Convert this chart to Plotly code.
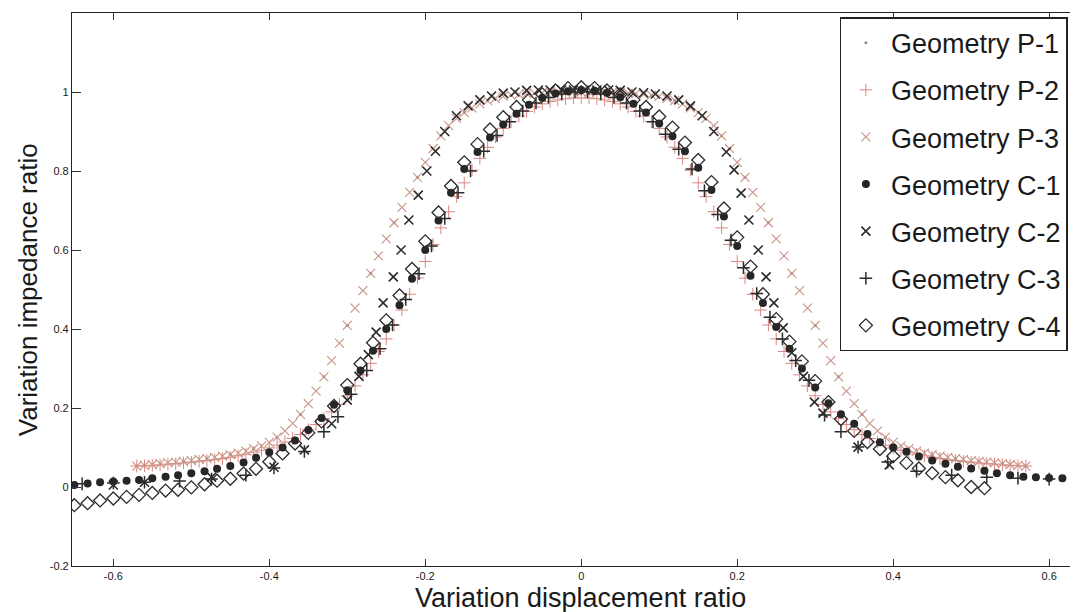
import plotly.graph_objects as go

# displacement grid shared by the dense P series
x_p = [-0.57, -0.56, -0.55, -0.54, -0.53, -0.52, -0.51, -0.50, -0.49, -0.48,
       -0.47, -0.46, -0.45, -0.44, -0.43, -0.42, -0.41, -0.40, -0.39, -0.38,
       -0.37, -0.36, -0.35, -0.34, -0.33, -0.32, -0.31, -0.30, -0.29, -0.28,
       -0.27, -0.26, -0.25, -0.24, -0.23, -0.22, -0.21, -0.20, -0.19, -0.18,
       -0.17, -0.16, -0.15, -0.14, -0.13, -0.12, -0.11, -0.10, -0.09, -0.08,
       -0.07, -0.06, -0.05, -0.04, -0.03, -0.02, -0.01, 0.00,
       0.01, 0.02, 0.03, 0.04, 0.05, 0.06, 0.07, 0.08, 0.09, 0.10,
       0.11, 0.12, 0.13, 0.14, 0.15, 0.16, 0.17, 0.18, 0.19, 0.20,
       0.21, 0.22, 0.23, 0.24, 0.25, 0.26, 0.27, 0.28, 0.29, 0.30,
       0.31, 0.32, 0.33, 0.34, 0.35, 0.36, 0.37, 0.38, 0.39, 0.40,
       0.41, 0.42, 0.43, 0.44, 0.45, 0.46, 0.47, 0.48, 0.49, 0.50,
       0.51, 0.52, 0.53, 0.54, 0.55, 0.56, 0.57]

# Geometry P-2 (inner curve)
y_p2 = [0.053, 0.054, 0.055, 0.056, 0.058, 0.059, 0.061, 0.063, 0.065, 0.067,
        0.069, 0.072, 0.075, 0.079, 0.083, 0.088, 0.093, 0.099, 0.106, 0.114,
        0.123, 0.133, 0.145, 0.158, 0.173, 0.190, 0.209, 0.231, 0.256, 0.284,
        0.313, 0.343, 0.375, 0.410, 0.448, 0.488, 0.529, 0.571, 0.614, 0.656,
        0.697, 0.735, 0.770, 0.802, 0.832, 0.860, 0.886, 0.908, 0.925, 0.939,
        0.951, 0.962, 0.970, 0.976, 0.980, 0.983, 0.985, 0.985,
        0.985, 0.983, 0.980, 0.976, 0.970, 0.962, 0.951, 0.939, 0.925, 0.908,
        0.886, 0.860, 0.832, 0.802, 0.770, 0.735, 0.697, 0.656, 0.614, 0.571,
        0.529, 0.488, 0.448, 0.410, 0.375, 0.343, 0.313, 0.284, 0.256, 0.231,
        0.209, 0.190, 0.173, 0.158, 0.145, 0.133, 0.123, 0.114, 0.106, 0.099,
        0.093, 0.088, 0.083, 0.079, 0.075, 0.072, 0.069, 0.067, 0.065, 0.063,
        0.061, 0.059, 0.058, 0.056, 0.055, 0.054, 0.053]

# Geometry P-3 (outer curve)
y_p3 = [0.053, 0.055, 0.057, 0.059, 0.061, 0.063, 0.065, 0.067, 0.070, 0.072,
        0.075, 0.078, 0.082, 0.086, 0.091, 0.097, 0.104, 0.113, 0.126, 0.142,
        0.161, 0.184, 0.211, 0.243, 0.279, 0.320, 0.364, 0.409, 0.453, 0.497,
        0.541, 0.585, 0.628, 0.669, 0.708, 0.746, 0.784, 0.822, 0.857, 0.889,
        0.915, 0.933, 0.948, 0.960, 0.970, 0.978, 0.984, 0.989, 0.992, 0.994,
        0.996, 0.997, 0.998, 0.999, 1.000, 1.000, 1.000, 1.000,
        1.000, 1.000, 1.000, 0.999, 0.998, 0.997, 0.996, 0.994, 0.992, 0.989,
        0.984, 0.978, 0.970, 0.960, 0.948, 0.933, 0.915, 0.889, 0.857, 0.822,
        0.784, 0.746, 0.708, 0.669, 0.628, 0.585, 0.541, 0.497, 0.453, 0.409,
        0.364, 0.320, 0.279, 0.243, 0.211, 0.184, 0.161, 0.142, 0.126, 0.113,
        0.104, 0.097, 0.091, 0.086, 0.082, 0.078, 0.075, 0.072, 0.070, 0.067,
        0.065, 0.063, 0.061, 0.059, 0.057, 0.055, 0.053]

# Geometry P-1 (small dots)
x_p1 = [-0.57, -0.54, -0.51, -0.48, -0.45, -0.42, -0.39, -0.36, -0.33, -0.30,
        -0.27, -0.24, -0.21, -0.18, -0.15, -0.12, -0.09, -0.06, -0.03, 0.00,
        0.03, 0.06, 0.09, 0.12, 0.15, 0.18, 0.21, 0.24, 0.27, 0.30,
        0.33, 0.36, 0.39, 0.42, 0.45, 0.48, 0.51, 0.54, 0.57]
y_p1 = [0.053, 0.059, 0.065, 0.072, 0.082, 0.097, 0.126, 0.184, 0.279, 0.409,
        0.541, 0.669, 0.784, 0.889, 0.948, 0.978, 0.992, 0.997, 1.000, 1.000,
        1.000, 0.997, 0.992, 0.978, 0.948, 0.889, 0.784, 0.669, 0.541, 0.409,
        0.279, 0.184, 0.126, 0.097, 0.082, 0.072, 0.065, 0.059, 0.053]

# Geometry C-1
x_c1 = [-0.650, -0.633, -0.617, -0.600, -0.583, -0.567, -0.550, -0.533, -0.517, -0.500,
        -0.483, -0.467, -0.450, -0.433, -0.417, -0.400, -0.383, -0.367, -0.350, -0.333,
        -0.317, -0.300, -0.283, -0.267, -0.250, -0.233, -0.217, -0.200, -0.183, -0.167,
        -0.150, -0.133, -0.117, -0.100, -0.083, -0.067, -0.050, -0.033, -0.017, 0.000,
        0.017, 0.033, 0.050, 0.067, 0.083, 0.100, 0.117, 0.133, 0.150, 0.167,
        0.183, 0.200, 0.217, 0.233, 0.250, 0.267, 0.283, 0.300, 0.317, 0.333,
        0.350, 0.367, 0.383, 0.400, 0.417, 0.433, 0.450, 0.467, 0.483, 0.500,
        0.517, 0.533, 0.550, 0.567, 0.583, 0.600, 0.617, 0.633, 0.650]
y_c1 = [0.005, 0.009, 0.012, 0.014, 0.016, 0.018, 0.022, 0.026, 0.030, 0.035,
        0.040, 0.046, 0.053, 0.062, 0.074, 0.088, 0.100, 0.118, 0.144, 0.175,
        0.208, 0.245, 0.295, 0.345, 0.400, 0.460, 0.527, 0.600, 0.675, 0.745,
        0.805, 0.848, 0.885, 0.918, 0.945, 0.968, 0.985, 0.996, 1.002, 1.005,
        1.003, 0.998, 0.987, 0.970, 0.948, 0.920, 0.888, 0.850, 0.808, 0.752,
        0.685, 0.610, 0.535, 0.466, 0.405, 0.350, 0.300, 0.252, 0.212, 0.184,
        0.160, 0.134, 0.113, 0.100, 0.089, 0.077, 0.067, 0.059, 0.051, 0.047,
        0.041, 0.035, 0.030, 0.026, 0.025, 0.023, 0.022, 0.022, 0.021]

# Geometry C-4
x_c4 = [-0.650, -0.633, -0.617, -0.600, -0.583, -0.567, -0.550, -0.533, -0.517, -0.500,
        -0.483, -0.467, -0.450, -0.433, -0.417, -0.400, -0.383, -0.367, -0.350, -0.333,
        -0.317, -0.300, -0.283, -0.267, -0.250, -0.233, -0.217, -0.200, -0.183, -0.167,
        -0.150, -0.133, -0.117, -0.100, -0.083, -0.067, -0.050, -0.033, -0.017, 0.000,
        0.017, 0.033, 0.050, 0.067, 0.083, 0.100, 0.117, 0.133, 0.150, 0.167,
        0.183, 0.200, 0.217, 0.233, 0.250, 0.267, 0.283, 0.300, 0.317, 0.333,
        0.350, 0.367, 0.383, 0.400, 0.417, 0.433, 0.450, 0.467, 0.483, 0.500,
        0.517]
y_c4 = [-0.046, -0.041, -0.034, -0.029, -0.025, -0.020, -0.015, -0.009, -0.007, -0.001,
        0.007, 0.016, 0.021, 0.034, 0.046, 0.064, 0.085, 0.110, 0.137, 0.166,
        0.205, 0.258, 0.312, 0.365, 0.422, 0.485, 0.552, 0.622, 0.695, 0.762,
        0.822, 0.868, 0.905, 0.936, 0.962, 0.980, 0.994, 1.004, 1.010, 1.012,
        1.010, 1.004, 0.994, 0.980, 0.962, 0.938, 0.910, 0.872, 0.828, 0.772,
        0.705, 0.632, 0.558, 0.488, 0.425, 0.368, 0.318, 0.268, 0.215, 0.172,
        0.142, 0.114, 0.096, 0.078, 0.061, 0.047, 0.035, 0.025, 0.017, 0.000,
        -0.003]

# Geometry C-2
x_c2 = [-0.60, -0.56, -0.474, -0.394, -0.355, -0.32, -0.30, -0.285, -0.273, -0.263,
        -0.254, -0.241, -0.231, -0.221, -0.209, -0.198, -0.187, -0.175, -0.16, -0.145,
        -0.13, -0.115, -0.10, -0.085, -0.07, -0.055, -0.04, -0.025, -0.01, 0.005,
        0.02, 0.035, 0.05, 0.065, 0.08, 0.095, 0.11, 0.125, 0.14, 0.155,
        0.17, 0.186, 0.196, 0.205, 0.215, 0.227, 0.237, 0.247, 0.259, 0.27,
        0.285, 0.299, 0.31, 0.355, 0.395]
y_c2 = [0.005, 0.012, 0.025, 0.05, 0.094, 0.16, 0.22, 0.28, 0.335, 0.392,
        0.466, 0.532, 0.60, 0.676, 0.739, 0.80, 0.85, 0.90, 0.94, 0.965,
        0.98, 0.99, 0.997, 1.0, 1.004, 1.005, 1.005, 1.005, 1.005, 1.005,
        1.005, 1.005, 1.004, 1.0, 0.998, 0.995, 0.99, 0.98, 0.965, 0.94,
        0.90, 0.848, 0.803, 0.744, 0.676, 0.60, 0.532, 0.466, 0.403, 0.34,
        0.28, 0.215, 0.187, 0.101, 0.056]

# Geometry C-3
x_c3 = [-0.64, -0.60, -0.56, -0.515, -0.474, -0.43, -0.394, -0.355, -0.33, -0.312,
        -0.295, -0.275, -0.258, -0.242, -0.225, -0.208, -0.192, -0.175, -0.158, -0.142,
        -0.125, -0.108, -0.092, -0.075, -0.058, -0.042, -0.025, -0.008, 0.008, 0.025,
        0.042, 0.058, 0.075, 0.092, 0.108, 0.125, 0.142, 0.158, 0.175, 0.192,
        0.208, 0.225, 0.242, 0.258, 0.275, 0.292, 0.312, 0.333, 0.355, 0.393,
        0.43, 0.475, 0.52, 0.56, 0.60, 0.64]
y_c3 = [0.008, 0.01, 0.012, 0.015, 0.02, 0.03, 0.048, 0.09, 0.14, 0.178,
        0.235, 0.295, 0.35, 0.41, 0.475, 0.54, 0.61, 0.68, 0.745, 0.80,
        0.85, 0.89, 0.925, 0.952, 0.972, 0.986, 0.995, 1.0, 1.0, 0.995,
        0.986, 0.972, 0.952, 0.925, 0.893, 0.855, 0.805, 0.75, 0.69, 0.625,
        0.555, 0.49, 0.43, 0.375, 0.32, 0.27, 0.182, 0.14, 0.101, 0.063,
        0.04, 0.03, 0.025, 0.022, 0.02, 0.02]

x_ticks = [-0.6, -0.4, -0.2, 0, 0.2, 0.4, 0.6]
x_ticktext = ['-0.6', '-0.4', '-0.2', '0', '0.2', '0.4', '0.6']
y_ticks = [-0.2, 0, 0.2, 0.4, 0.6, 0.8, 1, 1.2]
y_ticktext = ['-0.2', '0', '0.2', '0.4', '0.6', '0.8', '1', '1.2']

series = [
    ('Geometry P-1', x_p1, y_p1, 'circle', 3, '#8e8e8e', 0),
    ('Geometry P-2', x_p, y_p2, 'cross-thin', 9, '#d98880', 1),
    ('Geometry P-3', x_p, y_p3, 'x-thin', 9, '#c99486', 1.1),
    ('Geometry C-1', x_c1, y_c1, 'circle', 8, '#262626', 0),
    ('Geometry C-2', x_c2, y_c2, 'x-thin', 9, '#2b2b2b', 1.6),
    ('Geometry C-3', x_c3, y_c3, 'cross-thin', 9, '#2b2b2b', 1.5),
    ('Geometry C-4', x_c4, y_c4, 'diamond-open', 10, '#2b2b2b', 1.3),
]

fig = go.Figure()
for i, (name, xs, ys, sym, size, col, lw) in enumerate(series):
    if sym in ('x-thin', 'cross-thin', 'diamond-open'):
        mk = dict(symbol=sym, size=size, color=col, line=dict(width=lw, color=col))
    else:
        mk = dict(symbol=sym, size=size, color=col, line=dict(width=0))
    fig.add_trace(go.Scatter(x=xs, y=ys, mode='markers', name=name,
                             marker=mk, legendgroup=str(i)))

# the page body adds an 8px offset, so the figure is 8px smaller and shifted
fig.update_layout(
    width=1070, height=604,
    margin=dict(l=64, r=0, t=5, b=46, autoexpand=False),
    paper_bgcolor='white', plot_bgcolor='white',
    font=dict(family='Liberation Sans, Arial, sans-serif', color='#1a1a1a'),
    showlegend=True,
    legend=dict(x=0.763, y=0.992, xanchor='left', yanchor='top',
                bgcolor='white', bordercolor='#222', borderwidth=1.3,
                font=dict(size=27, color='#1a1a1a'),
                tracegroupgap=9, itemwidth=40),
    annotations=[
        dict(text='Variation displacement ratio', xref='paper', yref='paper',
             x=0.505, y=-0.058, xanchor='center', yanchor='middle',
             showarrow=False, font=dict(size=27, color='#1a1a1a')),
        dict(text='Variation impedance ratio', xref='paper', yref='paper',
             x=-0.044, y=0.5, xanchor='center', yanchor='middle', textangle=-90,
             showarrow=False, font=dict(size=26, color='#1a1a1a')),
    ],
)
fig.update_xaxes(range=[-0.653, 0.637], tickvals=x_ticks, ticktext=x_ticktext,
                 ticks='inside', ticklen=7, tickcolor='#333', showgrid=False,
                 zeroline=False, showline=True, linecolor='#222', linewidth=1.2,
                 mirror='ticks', tickfont=dict(size=11), automargin=False)
fig.update_yaxes(range=[-0.2, 1.2], tickvals=y_ticks, ticktext=y_ticktext,
                 ticks='inside', ticklen=9, tickcolor='#333', showgrid=False,
                 zeroline=False, showline=True, linecolor='#222', linewidth=1.2,
                 tickfont=dict(size=11), automargin=False)

fig.write_html("out.html")
